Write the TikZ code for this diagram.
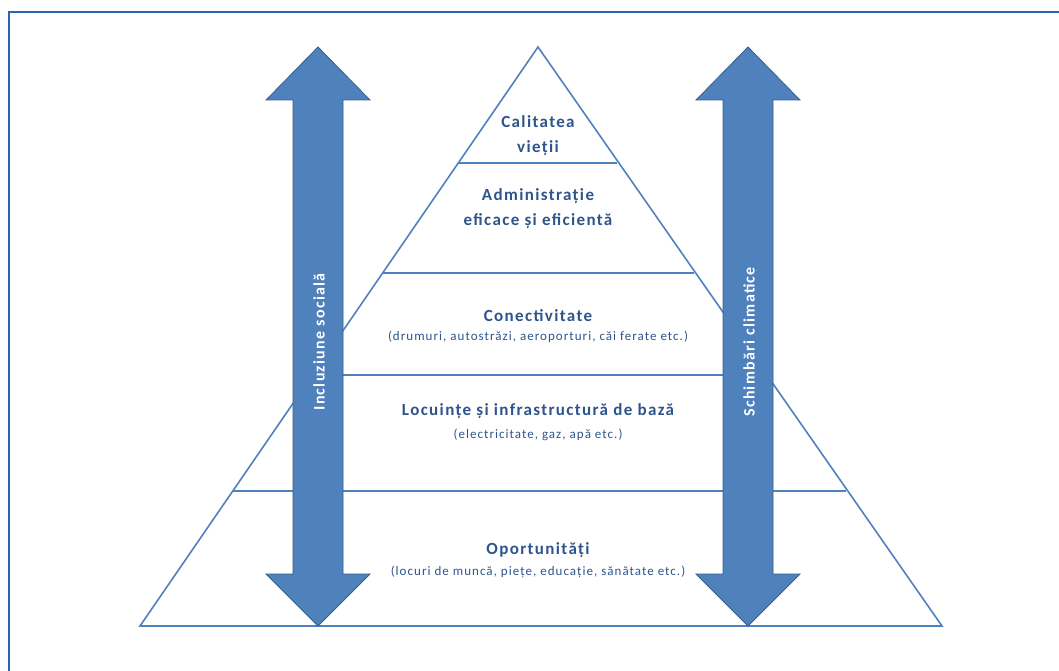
\documentclass[tikz,border=0pt]{standalone}
\usepackage{fontspec}
\setmainfont{Carlito}
\newfontfamily\spaced[LetterSpace=8]{Carlito}
\definecolor{arrowfill}{RGB}{79,129,189}
\definecolor{arrowline}{RGB}{56,93,138}
\definecolor{pyrline}{RGB}{79,129,189}
\definecolor{txtblue}{RGB}{46,84,140}
\definecolor{frameblue}{RGB}{46,99,176}
\begin{document}
\begin{tikzpicture}[x=1pt,y=-1pt,
  pyr/.style={draw=pyrline,line width=1.6pt},
  bigarrow/.style={fill=arrowfill,draw=arrowline,line width=0.8pt,line join=miter},
  title/.style={text=txtblue,font=\spaced\fontsize{17}{21}\selectfont\bfseries,align=center,inner sep=0pt},
  sub/.style={text=txtblue,font=\spaced\fontsize{13}{16}\selectfont,align=center,inner sep=0pt},
  arrowtxt/.style={text=white,font=\spaced\fontsize{16}{19}\selectfont\bfseries,rotate=90,inner sep=0pt}]
\useasboundingbox (0,0) rectangle (1059,671);
% frame
\draw[frameblue,line width=2pt] (9,671) -- (9,12) -- (1059,12);
% pyramid
\coordinate (apex) at (538,47);
\coordinate (bl) at (140,626);
\coordinate (br) at (942,626);
\draw[pyr,line join=miter] (bl) -- (apex) -- (br) -- cycle;
\draw[pyr] (458,163) -- (617,163);
\draw[pyr] (383,273) -- (694,273);
\draw[pyr] (313,375) -- (766,375);
\draw[pyr] (233,491) -- (846,491);
% arrows
\draw[bigarrow] (318,47) -- (370,100) -- (343,100) -- (343,574) -- (370,574) -- (318,626)
  -- (266,574) -- (293,574) -- (293,100) -- (266,100) -- cycle;
\draw[bigarrow] (748,47) -- (800,100) -- (773,100) -- (773,574) -- (800,574) -- (748,626)
  -- (696,574) -- (723,574) -- (723,100) -- (696,100) -- cycle;
\node[arrowtxt] (inc) at (319,342) {Incluziune socială};
\node[arrowtxt] (sch) at (749,342) {Schimbări climatice};
% labels
\node[title] (t1a) at (538,122) {Calitatea};
\node[title] (t1b) at (538,148) {vieții};
\node[title] (t2a) at (538,196) {Administrație};
\node[title] (t2b) at (538,221) {eficace și eficientă};
\node[title] (t3) at (538,316) {Conectivitate};
\node[sub] (s3) at (538,337) {(drumuri, autostrăzi, aeroporturi, căi ferate etc.)};
\node[title] (t4) at (538,411) {Locuințe și infrastructură de bază};
\node[sub] (s4) at (538,435) {(electricitate, gaz, apă etc.)};
\node[title] (t5) at (538,550) {Oportunități};
\node[sub] (s5) at (538,572) {(locuri de muncă, piețe, educație, sănătate etc.)};
\end{tikzpicture}
\end{document}
